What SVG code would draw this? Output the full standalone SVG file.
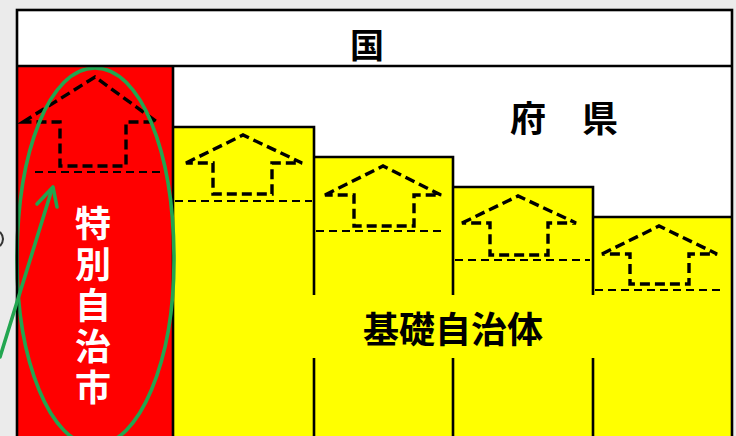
<svg xmlns="http://www.w3.org/2000/svg" width="736" height="436" viewBox="0 0 736 436">
  <defs>
    <style>
      .frame { fill: none; stroke: #000; stroke-width: 2.6; }
      .line { stroke: #000; stroke-width: 2.6; fill: none; }
      .house { fill: none; stroke: #000; stroke-width: 3.4; stroke-dasharray: 10 5; stroke-linejoin: miter; }
      .dash { stroke: #000; stroke-width: 2; stroke-dasharray: 8 5; fill: none; }
      .lbl { font-family: "Noto Sans CJK JP", "Noto Sans", sans-serif; font-weight: 700; }
      .green { fill: none; stroke: #22a650; stroke-width: 3.6; stroke-linecap: round; stroke-linejoin: round; }
    </style>
  </defs>

  <rect x="0" y="0" width="736" height="436" fill="#ebebeb"/>
  <rect x="17" y="10" width="715" height="440" fill="#fff"/>

  <g id="kuni">
    <text class="lbl" x="367" y="58" font-size="34" text-anchor="middle" fill="#000">国</text>
  </g>

  <g id="fuken">
    <text class="lbl" x="510" y="132" font-size="36" fill="#000">府　県</text>
  </g>

  <g id="kiso">
    <rect x="173" y="127" width="141" height="320" fill="#ffff00"/>
    <rect x="314" y="157" width="139" height="290" fill="#ffff00"/>
    <rect x="453" y="187" width="140" height="260" fill="#ffff00"/>
    <rect x="593" y="217" width="139" height="230" fill="#ffff00"/>
    <path class="line" d="M173,127 H314 V295 M314,157 H453 V295 M453,187 H593 V295 M593,217 H732"/>
    <path class="line" d="M314,358 V436 M453,358 V436 M593,358 V436"/>
    <path class="dash" d="M175,201 H312 M316,231 H444 M455,260 H590 M595,290 H724"/>
    <path class="house" d="M186,163 L243,135 L302,163 H272 V194 H213 V163 Z"/>
    <path class="house" d="M325,195 L383,166 L441,195 H414 V226 H354 V195 Z"/>
    <path class="house" d="M462,223 L518,196 L576,223 H548 V255 H490 V223 Z"/>
    <path class="house" d="M602,254 L659,226 L717,254 H689 V284 H630 V254 Z"/>
    <text class="lbl" x="363" y="343" font-size="36" fill="#000">基礎自治体</text>
  </g>

  <g id="tokubetsu">
    <rect x="17" y="66" width="156" height="380" fill="#ff0000"/>
    <path class="line" d="M173,66 V436"/>
    <path class="house" d="M23,122 L95,77 L157,122 H126 V166 H60 V122 Z"/>
    <path class="dash" d="M35,172 H165"/>
    <text class="lbl" x="93" y="205" font-size="36" fill="#fff" writing-mode="vertical-rl" letter-spacing="5">特別自治市</text>
    <path class="green" d="M95,68 C140,68 174,150 174,260 C174,360 140,445 95,445 C50,445 17,360 17,260 C17,150 50,68 95,68 Z"/>
  </g>

  <rect class="frame" x="17" y="10" width="715" height="440"/>
  <path class="line" d="M17,66 H732"/>

  <g id="connectors">
    <path class="green" d="M0,357 L52,189"/>
    <path class="green" d="M37,204 L53,187 L57,207"/>
    <path d="M0,232 Q6,239 0,246" fill="none" stroke="#333" stroke-width="2"/>
  </g>
</svg>
